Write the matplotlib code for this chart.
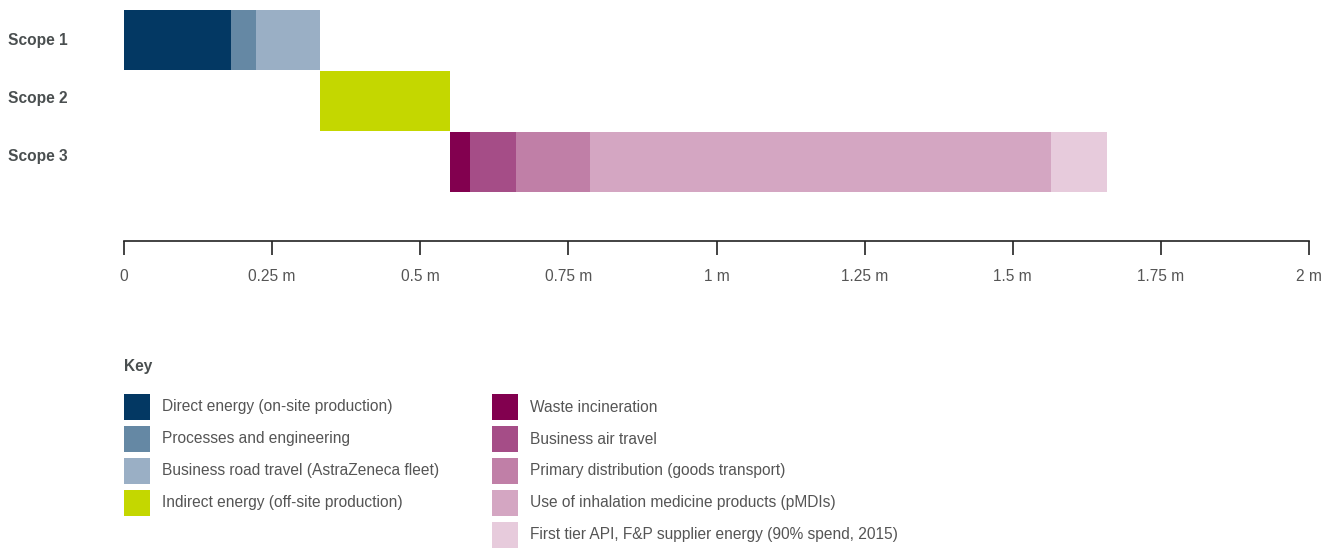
import numpy as np
import matplotlib

matplotlib.use('Agg')
import matplotlib.pyplot as plt
from matplotlib.patches import Rectangle

plt.rcParams['font.family'] = ['Liberation Sans', 'DejaVu Sans']

# --- data (million tonnes CO2e) ---
scopes = ['Scope 1', 'Scope 2', 'Scope 3']
scope1_labels = ['Direct energy (on-site production)', 'Processes and engineering',
                 'Business road travel (AstraZeneca fleet)']
scope1_values = [0.181, 0.042, 0.108]
scope2_labels = ['Indirect energy (off-site production)']
scope2_values = [0.219]
scope3_labels = ['Waste incineration', 'Business air travel', 'Primary distribution (goods transport)',
                 'Use of inhalation medicine products (pMDIs)',
                 'First tier API, F&P supplier energy (90% spend, 2015)']
scope3_values = [0.034, 0.078, 0.125, 0.778, 0.094]
tick_values = [0, 0.25, 0.5, 0.75, 1, 1.25, 1.5, 1.75, 2]
tick_labels = ['0', '0.25 m', '0.5 m', '0.75 m', '1 m', '1.25 m', '1.5 m', '1.75 m', '2 m']

scope1_colors = ['#033863', '#6588a4', '#9aafc5']
scope2_colors = ['#c4d700']
scope3_colors = ['#82004f', '#a54d87', '#c07fa7', '#d4a6c2', '#e7cbdc']

font_size = 11.2

W, H = 1335, 549
fig = plt.figure(figsize=(W / 100, H / 100), dpi=100)

# main waterfall axes (pixel placement)
ax_left, ax_right, ax_bottom_px = 124, 1309, 241
ax = fig.add_axes([ax_left / W, (H - ax_bottom_px) / H, (ax_right - ax_left) / W, ax_bottom_px / H])

groups = [(scope1_values, scope1_colors), (scope2_values, scope2_colors), (scope3_values, scope3_colors)]
start = 0.0
for i, (vals, cols) in enumerate(groups):
    lefts = start + np.concatenate([[0], np.cumsum(vals)[:-1]])
    ax.barh([i] * len(vals), vals, left=lefts, color=cols, height=0.985, linewidth=0)
    start += sum(vals)

ax.set_xlim(0, 2)
ax.set_ylim(3.295, -0.656)
ax.set_xticks(tick_values)
ax.set_xticklabels(tick_labels)
ax.set_yticks([])
for s in ['top', 'right', 'left']:
    ax.spines[s].set_visible(False)
ax.spines['bottom'].set_color('#222222')
ax.spines['bottom'].set_linewidth(1.2)
ax.tick_params(axis='x', length=10, width=1.2, color='#222222', pad=10,
               labelsize=font_size, labelcolor='#555555')

# scope labels
for i, s in enumerate(scopes):
    y_px = [41, 98, 157][i]
    fig.text(8 / W, 1 - y_px / H, s, fontsize=font_size, fontweight='bold', color='#4a4f50',
             ha='left', va='center')

# key
fig.text(124 / W, 1 - 367 / H, 'Key', fontsize=font_size, fontweight='bold', color='#4a4f50',
         ha='left', va='center')

col1 = list(zip(scope1_labels + scope2_labels, scope1_colors + scope2_colors))
col2 = list(zip(scope3_labels, scope3_colors))
for x_sw, entries in [(124, col1), (492, col2)]:
    for j, (lab, c) in enumerate(entries):
        top = 394 + 32 * j
        fig.add_artist(Rectangle((x_sw / W, 1 - (top + 26) / H), 26 / W, 26 / H,
                                 transform=fig.transFigure, color=c, linewidth=0))
        fig.text((x_sw + 38) / W, 1 - (top + 13) / H, lab, fontsize=font_size, color='#555555',
                 ha='left', va='center')

plt.savefig('out.png', dpi=100)
